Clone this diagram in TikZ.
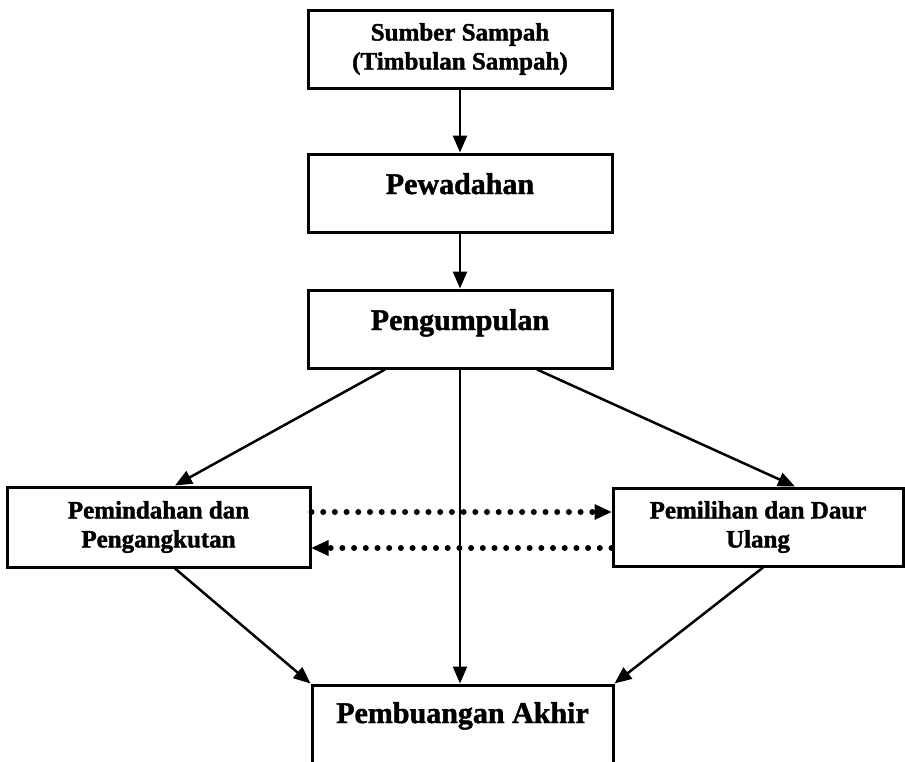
\documentclass[tikz,border=0pt]{standalone}
\usepackage{fontspec}
\setmainfont{Liberation Serif}[BoldFeatures={FakeBold=1.5}]
\usetikzlibrary{arrows.meta}
\tikzset{
	box/.style={draw,line width=3pt,inner sep=0pt,align=center,font=\bfseries\fontsize{25}{29}\selectfont},
	bigbox/.style={box,minimum width=304pt,text height=40pt,text depth=38pt,font=\bfseries\fontsize{30}{36}\selectfont},
	dotline/.style={line width=6pt,line cap=round,dash pattern=on 0pt off 11.7pt,-{Triangle[length=17pt,width=16pt,line width=0pt]}}
}
\begin{document}
\begin{tikzpicture}[x=1pt,y=-1pt,line width=2.5pt,>={Triangle[length=17pt,width=14pt]}]
		\useasboundingbox (0,0) rectangle (905,761);
		\node[box,minimum width=304pt,minimum height=78pt] (sumber) at (460,49) {Sumber Sampah\\(Timbulan Sampah)};
		\node[bigbox] (wadah) at (460,193) {Pewadahan};
		\node[bigbox] (kumpul) at (460,329) {Pengumpulan};
		\node[box,minimum width=303pt,minimum height=80pt] (pindah) at (158.5,527) {Pemindahan dan\\Pengangkutan};
		\node[box,minimum width=290pt,minimum height=78pt] (pilah) at (758,527) {Pemilihan dan Daur\\Ulang};
		\node[bigbox,minimum width=301pt,text height=38pt,text depth=42pt] (akhir) at (462.5,725) {Pembuangan Akhir};
		% alur utama
		\draw[->] (sumber) -- (wadah);
		\draw[->] (wadah) -- (kumpul);
		\draw[->] ([xshift=-75pt]kumpul.south) -- ([xshift=16.5pt]pindah.north);
		\draw[->] (kumpul.south) -- (kumpul.south |- akhir.north);
		\draw[->] ([xshift=77pt]kumpul.south) -- ([xshift=37pt]pilah.north);
		\draw[->] ([xshift=16.5pt]pindah.south) -- (akhir.north west);
		\draw[->] ([xshift=5pt]pilah.south) -- (akhir.north east);
		% timbal balik
		\draw[dotline] ([yshift=15pt]pindah.east) -- ([yshift=15pt]pilah.west);
		\draw[dotline] ([yshift=-21pt]pilah.west) -- ([yshift=-21pt]pindah.east);
	\end{tikzpicture}
\end{document}
